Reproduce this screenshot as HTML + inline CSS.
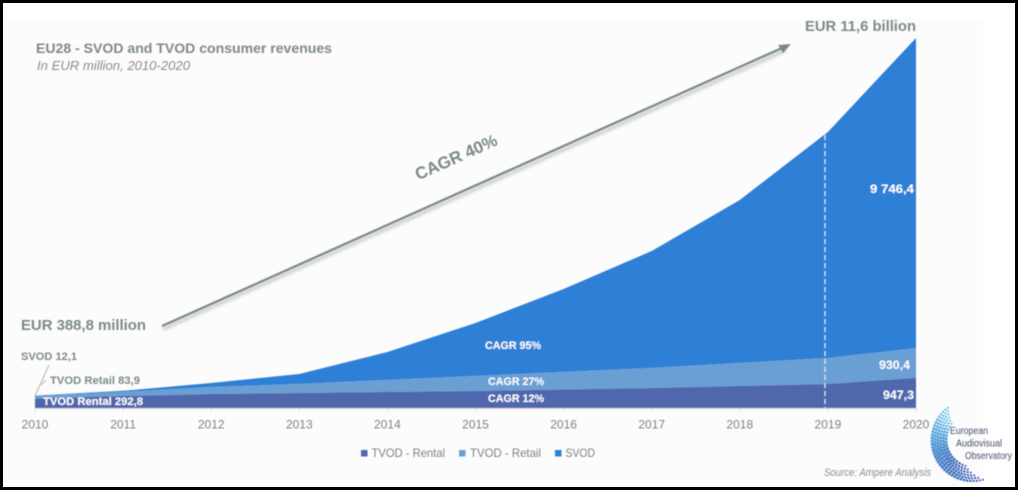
<!DOCTYPE html>
<html lang="en">
<head>
<meta charset="utf-8">
<title>EU28 - SVOD and TVOD consumer revenues</title>
<style>
html,body{margin:0;padding:0;background:#fff;width:1018px;height:490px;overflow:hidden}
svg{display:block}
text{font-family:"Liberation Sans",sans-serif}
</style>
</head>
<body>
<svg id="chart" width="1018" height="490" viewBox="0 0 1018 490" xmlns="http://www.w3.org/2000/svg">
<defs>
<filter id="soft" x="-2%" y="-2%" width="104%" height="104%"><feGaussianBlur stdDeviation="0.45"/></filter>
<filter id="shadow" x="-5%" y="-20%" width="110%" height="140%"><feGaussianBlur stdDeviation="1.5"/></filter>
</defs>
<rect x="0" y="0" width="1018" height="490" fill="#ffffff"/>
<rect x="8" y="18" width="975" height="468" fill="#fcfcfc"/>
<g id="root" filter="url(#soft)">
<g id="areas"></g>
<g id="axis"></g>
<line x1="825" y1="135" x2="825" y2="408" stroke="#d8e6f5" stroke-width="1.2" stroke-dasharray="5 3"/>

<text x="36" y="53" font-size="14" font-weight="700" fill="#7d8a86" textLength="296" lengthAdjust="spacingAndGlyphs">EU28 - SVOD and TVOD consumer revenues</text>
<text x="37" y="70" font-size="13" font-style="italic" fill="#8c8c8c" textLength="153" lengthAdjust="spacingAndGlyphs">In EUR million, 2010-2020</text>

<g>
<line x1="163" y1="329" x2="786" y2="50" stroke="#8a8f8c" stroke-width="3" opacity="0.5" filter="url(#shadow)"/>
<line x1="162" y1="326" x2="782" y2="48" stroke="#7a8a83" stroke-width="2.2"/>
<polygon points="791,44 778,45 783,53" fill="#7a8a83"/>
</g>
<text x="456" y="163" font-size="17" font-weight="700" fill="#7a8a83" text-anchor="middle" transform="rotate(-24 456 157)" textLength="88" lengthAdjust="spacingAndGlyphs">CAGR 40%</text>

<text x="805" y="31" font-size="15" font-weight="700" fill="#7d8a86" textLength="111" lengthAdjust="spacingAndGlyphs">EUR 11,6 billion</text>
<text x="21" y="330" font-size="15" font-weight="700" fill="#7d8a86" textLength="125" lengthAdjust="spacingAndGlyphs">EUR 388,8 million</text>

<g stroke="#b5b5b5" stroke-width="1" fill="none">
<line x1="35" y1="396" x2="49" y2="365"/>
<line x1="41" y1="385" x2="46" y2="380"/>
</g>
<text x="21" y="360" font-size="11" font-weight="700" fill="#7d8a86" textLength="56" lengthAdjust="spacingAndGlyphs">SVOD 12,1</text>
<text x="50" y="384" font-size="11" font-weight="700" fill="#7d8a86" textLength="90" lengthAdjust="spacingAndGlyphs">TVOD Retail 83,9</text>
<text x="43" y="405" font-size="11" font-weight="700" fill="#ffffff" textLength="100" lengthAdjust="spacingAndGlyphs">TVOD Rental 292,8</text>

<text x="485" y="349" font-size="11" font-weight="700" fill="#ffffff" textLength="56" lengthAdjust="spacingAndGlyphs">CAGR 95%</text>
<text x="488" y="385" font-size="11" font-weight="700" fill="#ffffff" textLength="56" lengthAdjust="spacingAndGlyphs">CAGR 27%</text>
<text x="488" y="402" font-size="11" font-weight="700" fill="#ffffff" textLength="56" lengthAdjust="spacingAndGlyphs">CAGR 12%</text>

<text x="870" y="193" font-size="12" font-weight="700" fill="#ffffff" textLength="44" lengthAdjust="spacingAndGlyphs">9 746,4</text>
<text x="879" y="369" font-size="12" font-weight="700" fill="#ffffff" textLength="31" lengthAdjust="spacingAndGlyphs">930,4</text>
<text x="883" y="399" font-size="12" font-weight="700" fill="#ffffff" textLength="31" lengthAdjust="spacingAndGlyphs">947,3</text>

<g>
<g>
<rect x="361" y="450" width="6.5" height="6.5" fill="#4f67ad"/>
<text x="371.5" y="457" font-size="12" fill="#808080" textLength="73.5" lengthAdjust="spacingAndGlyphs">TVOD - Rental</text>
</g>
<g>
<rect x="459" y="450" width="6.5" height="6.5" fill="#6a9fd4"/>
<text x="470" y="457" font-size="12" fill="#808080" textLength="71" lengthAdjust="spacingAndGlyphs">TVOD - Retail</text>
</g>
<g>
<rect x="555" y="450" width="6.5" height="6.5" fill="#2f7fd6"/>
<text x="565.5" y="457" font-size="12" fill="#808080" textLength="29.5" lengthAdjust="spacingAndGlyphs">SVOD</text>
</g>
</g>

<text x="824" y="476" font-size="11" font-style="italic" fill="#8c8c8c" textLength="107" lengthAdjust="spacingAndGlyphs">Source: Ampere Analysis</text>

<g id="logo"></g>
<text x="950" y="434" font-size="10" fill="#46506a" textLength="38" lengthAdjust="spacingAndGlyphs">European</text>
<text x="956" y="446.5" font-size="10" fill="#46506a" textLength="46" lengthAdjust="spacingAndGlyphs">Audiovisual</text>
<text x="965" y="459" font-size="10" fill="#46506a" textLength="47" lengthAdjust="spacingAndGlyphs">Observatory</text>
</g>

<g fill="#000000">
<rect x="0" y="0" width="1018" height="3"/>
<rect x="0" y="487" width="1018" height="3"/>
<rect x="0" y="0" width="3" height="490"/>
<rect x="1015" y="0" width="3" height="490"/>
</g>
</svg>
<script>
const categories = ["2010","2011","2012","2013","2014","2015","2016","2017","2018","2019","2020"];
const rentalValues = [292.8,377,440,471,503,534,581,628,691,754,947.3];
const retailValues = [83.9,126,220,283,377,471,550,629,723,817,930.4];
const svodValues = [12.1,37,125,314,879,1665,2608,3675,5121,7100,9746.4];

const SVG_NS = "http://www.w3.org/2000/svg";
const plotLeft = 35, plotRight = 916, plotBottom = 408, plotTop = 38, plotMax = 11624.1;

function xScale(i){ return plotLeft + (plotRight - plotLeft) * i / (categories.length - 1); }
function yScale(v){ return plotBottom - (plotBottom - plotTop) * v / plotMax; }

function areaPath(lower, upper){
  let d = "";
  upper.forEach(function(v,i){ d += (i ? "L" : "M") + xScale(i).toFixed(2) + " " + yScale(v).toFixed(2); });
  for (let i = lower.length - 1; i >= 0; i--) { d += "L" + xScale(i).toFixed(2) + " " + yScale(lower[i]).toFixed(2); }
  return d + "Z";
}

const zeros = categories.map(function(){ return 0; });
const stack1 = rentalValues.slice();
const stack2 = stack1.map(function(v,i){ return v + retailValues[i]; });
const stack3 = stack2.map(function(v,i){ return v + svodValues[i]; });

const areasGroup = document.getElementById("areas");

const svodArea = document.createElementNS(SVG_NS, "path");


svodArea.setAttribute("d", areaPath(stack2, stack3));
svodArea.setAttribute("fill", "#2f7fd6");
areasGroup.appendChild(svodArea);

const retailArea = document.createElementNS(SVG_NS, "path");


retailArea.setAttribute("d", areaPath(stack1, stack2));
retailArea.setAttribute("fill", "#6a9fd4");
areasGroup.appendChild(retailArea);

const rentalArea = document.createElementNS(SVG_NS, "path");


rentalArea.setAttribute("d", areaPath(zeros, stack1));
rentalArea.setAttribute("fill", "#4f67ad");
areasGroup.appendChild(rentalArea);

const axisGroup = document.getElementById("axis");
const axisLine = document.createElementNS(SVG_NS, "line");


axisLine.setAttribute("x1", plotLeft);
axisLine.setAttribute("x2", plotRight);
axisLine.setAttribute("y1", plotBottom + 0.5);
axisLine.setAttribute("y2", plotBottom + 0.5);
axisLine.setAttribute("stroke", "#d9d9d9");
axisGroup.appendChild(axisLine);

categories.forEach(function(label,i){
  const tick = document.createElementNS(SVG_NS, "line");
  
  
  tick.setAttribute("x1", xScale(i));
  tick.setAttribute("x2", xScale(i));
  tick.setAttribute("y1", plotBottom);
  tick.setAttribute("y2", plotBottom + 4);
  tick.setAttribute("stroke", "#d9d9d9");
  axisGroup.appendChild(tick);

  const tickLabel = document.createElementNS(SVG_NS, "text");
  
  
  tickLabel.setAttribute("x", xScale(i));
  tickLabel.setAttribute("y", 428.5);
  tickLabel.setAttribute("font-size", "12");
  tickLabel.setAttribute("fill", "#808080");
  tickLabel.setAttribute("text-anchor", "middle");
  tickLabel.textContent = label;
  axisGroup.appendChild(tickLabel);
});

/* decorative logo crescent built from rows of dots */
const logoGroup = document.getElementById("logo");
const logoCx = 973, logoCy = 440;
for (let row = 0; row < 6; row++) {
  const radius = 41 - row * 2.8;
  const startDeg = 232 - row * 3;
  const endDeg = 76 + row * 6;
  const stepDeg = (3.2 / radius) * 180 / Math.PI;
  const steps = Math.round((startDeg - endDeg) / stepDeg);
  for (let s = 0; s <= steps; s++) {
    const t = s / steps;
    const deg = startDeg - (startDeg - endDeg) * t;
    const rad = deg * Math.PI / 180;
    const r = 0.75 + 0.85 * Math.sin(Math.PI * (0.1 + 0.8 * t));
    const red = Math.round(95 - 40 * t);
    const green = Math.round(190 - 105 * t);
    const blue = Math.round(235 - 60 * t);
    const dot = document.createElementNS(SVG_NS, "circle");
    
    
    dot.setAttribute("cx", (logoCx + radius * Math.cos(rad)).toFixed(2));
    dot.setAttribute("cy", (logoCy + radius * Math.sin(rad)).toFixed(2));
    dot.setAttribute("r", r.toFixed(2));
    dot.setAttribute("fill", "rgb(" + red + "," + green + "," + blue + ")");
    logoGroup.appendChild(dot);
  }
}
</script>
</body>
</html>
